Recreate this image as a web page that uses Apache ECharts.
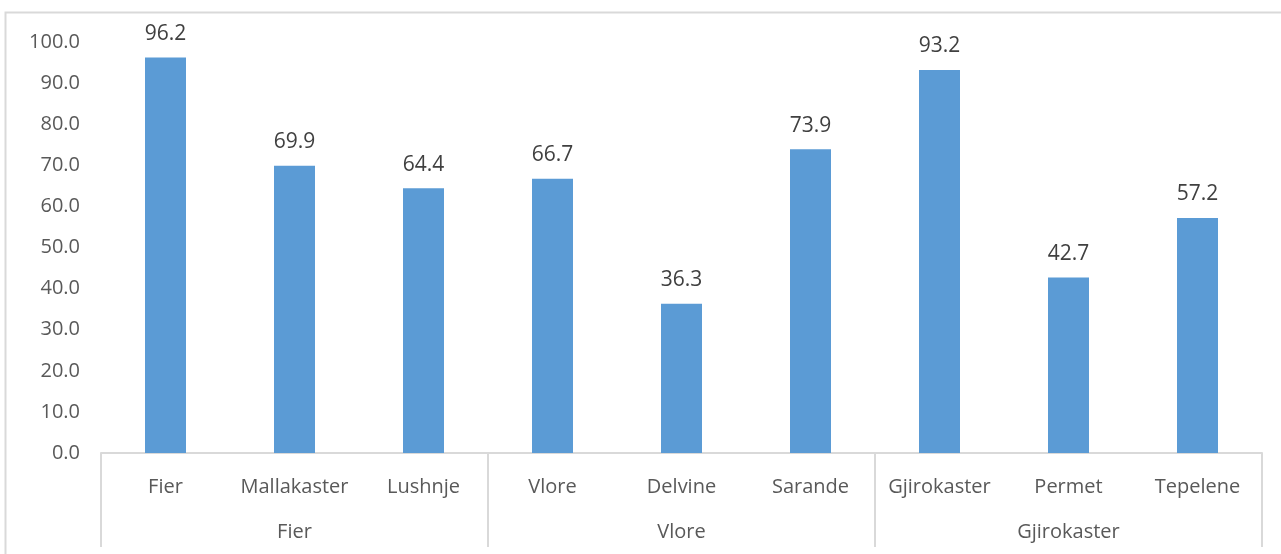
<!DOCTYPE html>
<html>
<head>
<meta charset="utf-8">
<script src="https://cdn.jsdelivr.net/npm/echarts@6/dist/echarts.min.js"></script>
<style>
  html, body { margin: 0; padding: 0; background: #fff; }
  #main { width: 1281px; height: 554px; }
</style>
</head>
<body>
<div id="main"></div>
<script>
var districts = ['Fier', 'Mallakaster', 'Lushnje', 'Vlore', 'Delvine', 'Sarande', 'Gjirokaster', 'Permet', 'Tepelene'];
var regions = ['Fier', 'Vlore', 'Gjirokaster'];
var values = [96.2, 69.9, 64.4, 66.7, 36.3, 73.9, 93.2, 42.7, 57.2];

var font = 'Open Sans';
var chart = echarts.init(document.getElementById('main'));
chart.setOption({
  animation: false,
  grid: { left: 101, right: 19, top: 42, bottom: 101 },
  graphic: [{
    type: 'rect',
    shape: { x: 5.5, y: 12.5, width: 1400, height: 700 },
    style: { fill: 'none', stroke: '#d9d9d9', lineWidth: 2 },
    silent: true
  }],
  xAxis: [
    {
      type: 'category',
      data: districts,
      axisLine: { show: false },
      axisTick: { show: false },
      axisLabel: { interval: 0, hideOverlap: false, margin: 24, color: '#595959', fontSize: 20, fontFamily: font }
    },
    {
      type: 'category',
      data: regions,
      position: 'bottom',
      axisLine: { show: true, lineStyle: { color: '#d9d9d9', width: 2 } },
      axisTick: { show: true, length: 94, lineStyle: { color: '#d9d9d9', width: 2 } },
      axisLabel: { interval: 0, margin: 69, color: '#595959', fontSize: 20, fontFamily: font }
    }
  ],
  yAxis: {
    type: 'value',
    min: 0,
    max: 100,
    interval: 10,
    axisLine: { show: false },
    axisTick: { show: false },
    splitLine: { show: false },
    axisLabel: {
      margin: 21,
      color: '#595959',
      fontSize: 20,
      fontFamily: font,
      formatter: function (v) { return v.toFixed(1); }
    }
  },
  series: [{
    type: 'bar',
    xAxisIndex: 0,
    data: values,
    barWidth: 41,
    itemStyle: { color: '#5b9bd5' },
    label: {
      show: true,
      position: 'top',
      distance: 13,
      color: '#404040',
      fontSize: 21,
      fontFamily: font,
      formatter: function (p) { return p.value.toFixed(1); }
    }
  }]
});
</script>
</body>
</html>
